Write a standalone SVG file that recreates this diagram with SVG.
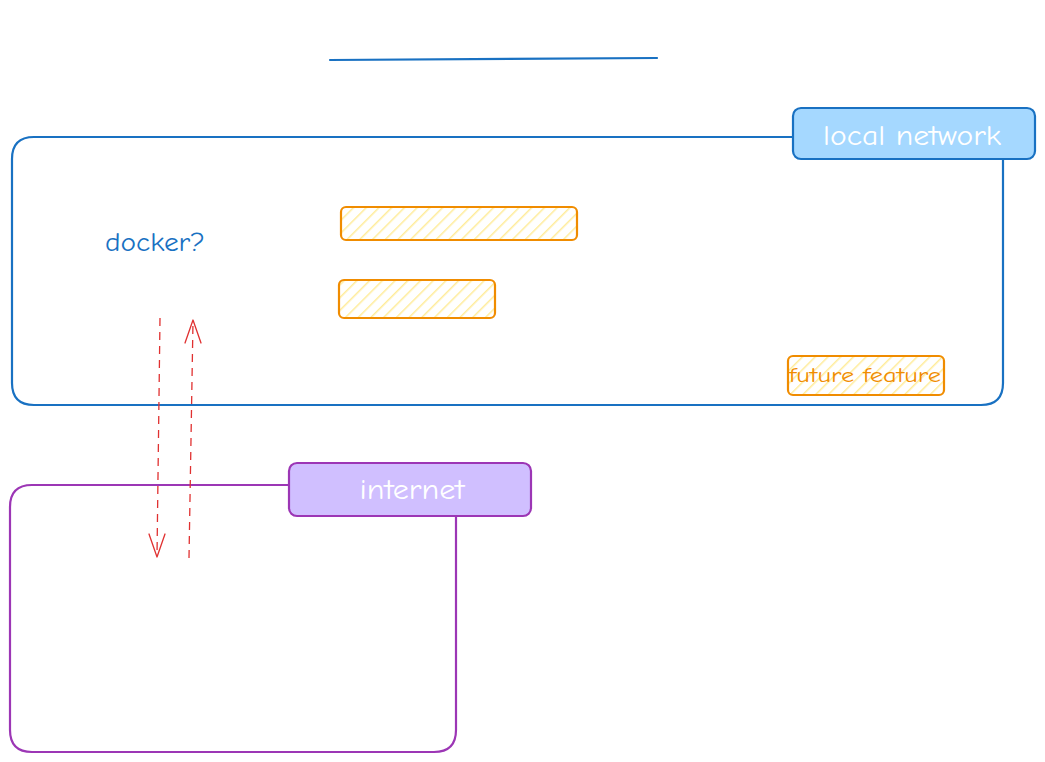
<svg xmlns="http://www.w3.org/2000/svg" width="1045" height="762" viewBox="0 0 1045 762">
<style>
.blue{fill:none;stroke:#1971c2;stroke-width:2.2;stroke-linecap:round;stroke-linejoin:round}
.purple{fill:none;stroke:#9c36b5;stroke-width:2.2;stroke-linecap:round;stroke-linejoin:round}
.orange{fill:url(#hatch);stroke:#f08c00;stroke-width:2.2}
.lbl{font-family:"Comic Neue","Liberation Sans",sans-serif;fill:#ffffff;text-anchor:middle}
.dash{fill:none;stroke:#e03131;stroke-width:1.3;stroke-dasharray:8 6}
.head{fill:none;stroke:#e03131;stroke-width:1.3;stroke-linecap:round;stroke-linejoin:round}
</style>
<defs>
<pattern id="hatch" patternUnits="userSpaceOnUse" width="9" height="9" patternTransform="rotate(45)">
<rect width="9" height="9" fill="#ffffff"/>
<line x1="0" y1="0" x2="0" y2="9" stroke="#ffec99" stroke-width="3"/>
</pattern>
</defs>
<rect width="1045" height="762" fill="#ffffff"/>
<g id="title-line">
<path class="blue" d="M330 60 L657 58" stroke-width="2.5"/>
</g>
<g id="local-network">
<path class="blue" d="M793 137 L34 137 Q12 137 12 159 L12 383 Q12 405 34 405 L981 405 Q1003 405 1003 383 L1003 159"/>
</g>
<g id="local-network-label">
<rect x="793" y="108" width="242" height="51" rx="8" fill="#a5d8ff" stroke="#1971c2" stroke-width="2.2"/>
<text class="lbl" x="912" y="145" font-size="28" textLength="178" lengthAdjust="spacingAndGlyphs">local network</text>
</g>
<g id="docker">
<text x="105" y="251" font-family="'Comic Neue','Liberation Sans',sans-serif" font-size="26" fill="#1971c2" textLength="100" lengthAdjust="spacingAndGlyphs">docker?</text>
</g>
<g id="box1">
<rect class="orange" x="341" y="207" width="236" height="33" rx="5"/>
</g>
<g id="box2">
<rect class="orange" x="339" y="280" width="156" height="38" rx="5"/>
</g>
<g id="future-feature">
<rect class="orange" x="788" y="356" width="156" height="39" rx="5"/>
<text x="865" y="382" font-family="'Comic Neue','Liberation Sans',sans-serif" font-size="21" fill="#f08c00" text-anchor="middle" textLength="152" lengthAdjust="spacingAndGlyphs">future feature</text>
</g>
<g id="internet">
<path class="purple" d="M289 485 L32 485 Q10 485 10 507 L10 730 Q10 752 32 752 L434 752 Q456 752 456 730 L456 516"/>
</g>
<g id="internet-label">
<rect x="289" y="463" width="242" height="53" rx="8" fill="#d0bfff" stroke="#9c36b5" stroke-width="2.2"/>
<text class="lbl" x="412" y="499" font-size="28" textLength="105" lengthAdjust="spacingAndGlyphs">internet</text>
</g>
<g id="connectors">
<path class="dash" d="M160 318 L157 556"/>
<path class="head" d="M149 534 L157 557 L165 534"/>
<path class="dash" d="M189 558 L193 321"/>
<path class="head" d="M185 343 L193 320 L201 343"/>
</g>
</svg>
